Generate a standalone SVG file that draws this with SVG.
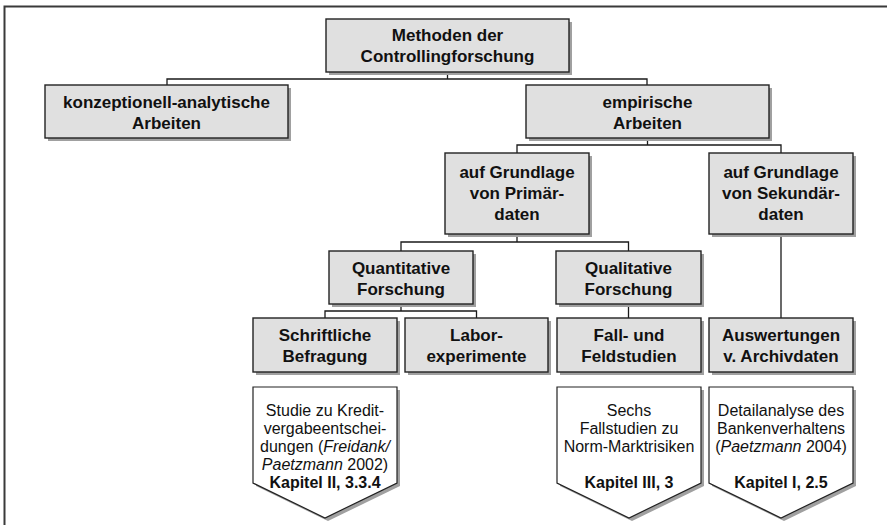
<svg xmlns="http://www.w3.org/2000/svg" width="887" height="525" viewBox="0 0 887 525">
  <style>
    .box { fill: #e0e0e0; stroke: #222222; stroke-width: 1.4; }
    .shadow { fill: #a0a0a0; }
    .note { fill: #ffffff; stroke: #222222; stroke-width: 1.2; }
    .wire { fill: none; stroke: #1a1a1a; stroke-width: 1.3; }
    .frame { fill: none; stroke: #3a3a3a; stroke-width: 2; }
    .t { font-family: "Liberation Sans", Arial, sans-serif; font-size: 17px; font-weight: bold; fill: #111111; text-anchor: middle; }
    .n { font-family: "Liberation Sans", Arial, sans-serif; font-size: 16px; fill: #111111; text-anchor: middle; }
    .nb { font-weight: bold; }
  </style>

  <!-- page frame -->
  <path class="frame" d="M4.5,525 V6.5 H887"/>

  <!-- connectors -->
  <g id="connectors">
    <path class="wire" d="M447.5,72 V79 M167,85 V79 H647 V85"/>
    <path class="wire" d="M647.5,138 V145 M517,153 V145 H781 V153"/>
    <path class="wire" d="M517,234 V242 M401,251 V242 H628.5 V251"/>
    <path class="wire" d="M401,304 V311 M325,318 V311 H476.5 V318"/>
    <path class="wire" d="M628.5,304 V318"/>
    <path class="wire" d="M781,234 V318"/>
  </g>

  <g id="root">
    <rect class="shadow" x="329" y="22" width="243" height="53"/>
    <rect class="box" x="326" y="19" width="243" height="53"/>
    <text class="t" x="447.5" y="41">Methoden der</text>
    <text class="t" x="447.5" y="62">Controllingforschung</text>
  </g>

  <g id="konzeptionell">
    <rect class="shadow" x="48" y="88" width="243" height="53"/>
    <rect class="box" x="45" y="85" width="243" height="53"/>
    <text class="t" x="166.5" y="108">konzeptionell-analytische</text>
    <text class="t" x="166.5" y="129">Arbeiten</text>
  </g>

  <g id="empirisch">
    <rect class="shadow" x="529" y="88" width="243" height="53"/>
    <rect class="box" x="526" y="85" width="243" height="53"/>
    <text class="t" x="647.5" y="108">empirische</text>
    <text class="t" x="647.5" y="129">Arbeiten</text>
  </g>

  <g id="primaer">
    <rect class="shadow" x="448" y="156" width="144" height="81"/>
    <rect class="box" x="445" y="153" width="144" height="81"/>
    <text class="t" x="517" y="178">auf Grundlage</text>
    <text class="t" x="517" y="199">von Primär-</text>
    <text class="t" x="517" y="220">daten</text>
  </g>

  <g id="sekundaer">
    <rect class="shadow" x="712" y="156" width="144" height="81"/>
    <rect class="box" x="709" y="153" width="144" height="81"/>
    <text class="t" x="781" y="178">auf Grundlage</text>
    <text class="t" x="781" y="199">von Sekundär-</text>
    <text class="t" x="781" y="220">daten</text>
  </g>

  <g id="quantitativ">
    <rect class="shadow" x="332" y="254" width="144" height="53"/>
    <rect class="box" x="329" y="251" width="144" height="53"/>
    <text class="t" x="401" y="274">Quantitative</text>
    <text class="t" x="401" y="295">Forschung</text>
  </g>

  <g id="qualitativ">
    <rect class="shadow" x="559" y="254" width="145" height="53"/>
    <rect class="box" x="556" y="251" width="145" height="53"/>
    <text class="t" x="628.5" y="274">Qualitative</text>
    <text class="t" x="628.5" y="295">Forschung</text>
  </g>

  <g id="befragung">
    <rect class="shadow" x="256" y="321" width="144" height="54"/>
    <rect class="box" x="253" y="318" width="144" height="54"/>
    <text class="t" x="325" y="341">Schriftliche</text>
    <text class="t" x="325" y="362">Befragung</text>
  </g>

  <g id="labor">
    <rect class="shadow" x="408" y="321" width="143" height="54"/>
    <rect class="box" x="405" y="318" width="143" height="54"/>
    <text class="t" x="476.5" y="341">Labor-</text>
    <text class="t" x="476.5" y="362">experimente</text>
  </g>

  <g id="fallstudien">
    <rect class="shadow" x="560" y="321" width="144" height="54"/>
    <rect class="box" x="557" y="318" width="144" height="54"/>
    <text class="t" x="629" y="341">Fall- und</text>
    <text class="t" x="629" y="362">Feldstudien</text>
  </g>

  <g id="archiv">
    <rect class="shadow" x="712" y="321" width="144" height="54"/>
    <rect class="box" x="709" y="318" width="144" height="54"/>
    <text class="t" x="781" y="341">Auswertungen</text>
    <text class="t" x="781" y="362">v. Archivdaten</text>
  </g>

  <!-- downward pointing notes -->
  <g id="note-kredit">
    <path class="shadow" d="M256,390 H400 V486 L328,521 L256,486 Z"/>
    <path class="note" d="M253,387 H397 V483 L325,518 L253,483 Z"/>
    <text class="n" x="325" y="416">Studie zu Kredit-</text>
    <text class="n" x="325" y="434">vergabeentschei-</text>
    <text class="n" x="325" y="452">dungen (<tspan font-style="italic">Freidank/</tspan></text>
    <text class="n" x="325" y="470"><tspan font-style="italic">Paetzmann</tspan> 2002)</text>
    <text class="n nb" x="325" y="488">Kapitel II, 3.3.4</text>
  </g>

  <g id="note-fall">
    <path class="shadow" d="M560,390 H704 V486 L632,521 L560,486 Z"/>
    <path class="note" d="M557,387 H701 V483 L629,518 L557,483 Z"/>
    <text class="n" x="629" y="416">Sechs</text>
    <text class="n" x="629" y="434">Fallstudien zu</text>
    <text class="n" x="629" y="452">Norm-Marktrisiken</text>
    <text class="n nb" x="629" y="488">Kapitel III, 3</text>
  </g>

  <g id="note-bank">
    <path class="shadow" d="M712,390 H856 V486 L784,521 L712,486 Z"/>
    <path class="note" d="M709,387 H853 V483 L781,518 L709,483 Z"/>
    <text class="n" x="781" y="416">Detailanalyse des</text>
    <text class="n" x="781" y="434">Bankenverhaltens</text>
    <text class="n" x="781" y="452">(<tspan font-style="italic">Paetzmann</tspan> 2004)</text>
    <text class="n nb" x="781" y="488">Kapitel I, 2.5</text>
  </g>
</svg>
